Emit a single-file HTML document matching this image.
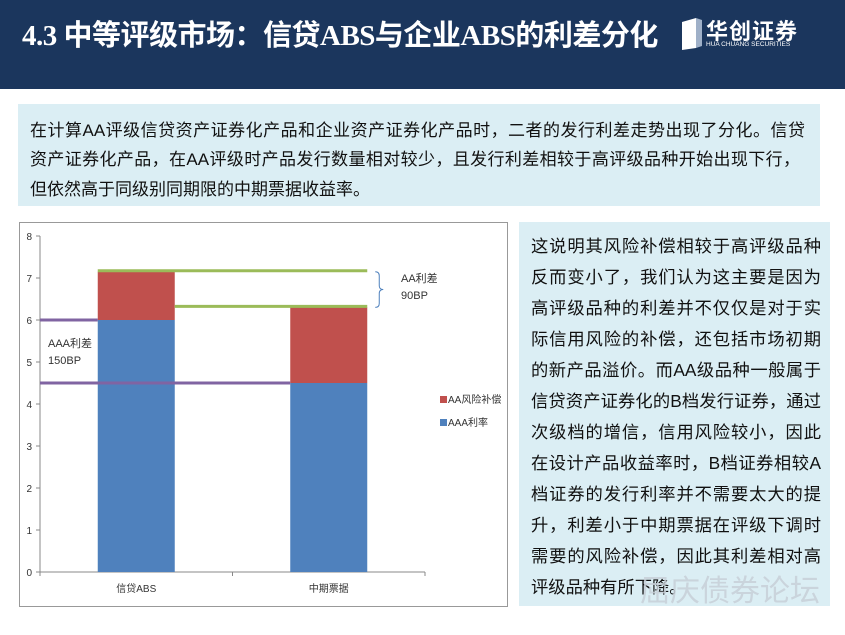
<!DOCTYPE html>
<html><head><meta charset="utf-8">
<style>
body{margin:0;width:845px;height:635px;background:#fff;position:relative;overflow:hidden;font-family:"Liberation Sans","Noto Sans CJK SC",sans-serif;}
.hdr{position:absolute;left:0;top:0;width:845px;height:89px;background:#1b365d;}
.title{position:absolute;left:22px;top:12px;color:#fff;font-weight:bold;font-size:29px;font-family:"Liberation Serif","Noto Sans CJK SC",sans-serif;letter-spacing:-0.5px;white-space:nowrap;}
.logo{position:absolute;left:680px;top:16px;color:#fff;}
.box1{position:absolute;left:18px;top:104px;width:802px;height:102px;background:#dbeef4;}
.l1{position:absolute;left:30px;width:775px;font-size:17px;color:#111;white-space:nowrap;text-align:justify;text-align-last:justify;}
.box2{position:absolute;left:519px;top:222px;width:311px;height:384px;background:#dbeef4;}
.l2{position:absolute;left:12px;width:290px;font-size:17.3px;color:#111;white-space:nowrap;text-align:justify;text-align-last:justify;}
</style></head><body>
<div class="hdr"></div>
<div class="title">4.3 中等评级市场：信贷ABS与企业ABS的利差分化</div>
<div class="logo">
<svg width="120" height="36" style="position:absolute;left:0;top:0"><g fill="#fff"><polygon points="2,6 16,2 16,32 2,34"/><polygon points="16,2 22,4 22,30 16,32" fill="#9fb0c8"/></g></svg>
<div style="position:absolute;left:26px;top:-2px;font-size:22px;font-weight:bold;white-space:nowrap;letter-spacing:1px">华创证券</div>
<div style="position:absolute;left:26px;top:25px;font-size:6.5px;white-space:nowrap">HUA CHUANG SECURITIES</div>
</div>
<div class="box1"></div>
<div class="l1" style="top:116px">在计算AA评级信贷资产证券化产品和企业资产证券化产品时，二者的发行利差走势出现了分化。信贷</div>
<div class="l1" style="top:145px;width:770px">资产证券化产品，在AA评级时产品发行数量相对较少，且发行利差相较于高评级品种开始出现下行，</div>
<div class="l1" style="top:175px;text-align-last:left">但依然高于同级别同期限的中期票据收益率。</div>

<svg id="chart" width="845" height="635" style="position:absolute;left:0;top:0">
<rect x="19.5" y="222.5" width="488" height="384" fill="#fff" stroke="#999"/>
</svg>

<div class="box2">
<div class="l2" style="top:10px">这说明其风险补偿相较于高评级品种</div>
<div class="l2" style="top:41px">反而变小了，我们认为这主要是因为</div>
<div class="l2" style="top:72px">高评级品种的利差并不仅仅是对于实</div>
<div class="l2" style="top:103px">际信用风险的补偿，还包括市场初期</div>
<div class="l2" style="top:134px">的新产品溢价。而AA级品种一般属于</div>
<div class="l2" style="top:165px">信贷资产证券化的B档发行证券，通过</div>
<div class="l2" style="top:196px">次级档的增信，信用风险较小，因此</div>
<div class="l2" style="top:227px">在设计产品收益率时，B档证券相较A</div>
<div class="l2" style="top:258px">档证券的发行利率并不需要太大的提</div>
<div class="l2" style="top:289px">升，利差小于中期票据在评级下调时</div>
<div class="l2" style="top:320px">需要的风险补偿，因此其利差相对高</div>
<div class="l2" style="top:351px;text-align-last:left">评级品种有所下降。</div>
</div>
<div style="position:absolute;left:640px;top:566px;font-size:30px;color:#c8d0d8;opacity:0.85;white-space:nowrap">屈庆债券论坛</div>

<script>
const categories=["信贷ABS","中期票据"];
const aaaRate=[6.0,4.5];
const aaRisk=[1.15,1.8];
const yTicks=[0,1,2,3,4,5,6,7,8];
const svg=document.getElementById('chart');
const NS='http://www.w3.org/2000/svg';
const x0=40,x1=425,yBase=572,yTop=236,yMax=8;
const y=v=>yBase-(yBase-yTop)*v/yMax;
const band=(x1-x0)/categories.length;
const bw=77;
const bx=i=>x0+band*i+(band-bw)/2;
function mk(t,a){const e=document.createElementNS(NS,t);for(const k in a)e.setAttribute(k,a[k]);svg.appendChild(e);return e;}
let e=mk('line',{x1:x0,y1:yTop,x2:x0,y2:yBase,stroke:'#888'});

e=mk('line',{x1:x0,y1:yBase,x2:x1,y2:yBase,stroke:'#888'});

yTicks.forEach(t=>{
 mk('line',{x1:x0-4,y1:y(t),x2:x0,y2:y(t),stroke:'#888'});
 const l=mk('text',{x:x0-8,y:y(t)+4,'text-anchor':'end','font-size':10,fill:'#333'});l.textContent=t;
 
});
for(let i=0;i<=categories.length;i++)mk('line',{x1:x0+band*i,y1:yBase,x2:x0+band*i,y2:yBase+4,stroke:'#888'});
categories.forEach((c,i)=>{
 let r=mk('rect',{x:bx(i),y:y(aaaRate[i]),width:bw,height:yBase-y(aaaRate[i]),fill:'#4f81bd'});
 
 r=mk('rect',{x:bx(i),y:y(aaaRate[i]+aaRisk[i]),width:bw,height:y(aaaRate[i])-y(aaaRate[i]+aaRisk[i]),fill:'#c0504d'});
 
 const l=mk('text',{x:x0+band*(i+0.5),y:yBase+20,'text-anchor':'middle','font-size':10,fill:'#333'});l.textContent=c;
 
});
const t0=aaaRate[0]+aaRisk[0],t1=aaaRate[1]+aaRisk[1];
e=mk('line',{x1:bx(0),y1:y(t0)-1,x2:bx(1)+bw,y2:y(t0)-1,stroke:'#9bbb59','stroke-width':3});

e=mk('line',{x1:bx(0)+bw,y1:y(t1)-1,x2:bx(1)+bw,y2:y(t1)-1,stroke:'#9bbb59','stroke-width':3});

e=mk('line',{x1:x0,y1:y(aaaRate[0]),x2:bx(0),y2:y(aaaRate[0]),stroke:'#8064a2','stroke-width':3});

e=mk('line',{x1:x0,y1:y(aaaRate[1]),x2:bx(1),y2:y(aaaRate[1]),stroke:'#8064a2','stroke-width':3});

const bxr=bx(1)+bw+8;
e=mk('path',{d:`M${bxr},${y(t0)} q4,0 4,4 v${(y(t1)-y(t0))/2-8} q0,4 4,4 q-4,0 -4,4 v${(y(t1)-y(t0))/2-8} q0,4 -4,4`,fill:'none',stroke:'#4f81bd'});

function txt(s,x,yy,n){const l=mk('text',{x:x,y:yy,'font-size':11,fill:'#333'});l.textContent=s;}
txt('AA利差',401,282,'aa-spread-label');txt('90BP',401,299,'aa-spread-value');
txt('AAA利差',48,347,'aaa-spread-label');txt('150BP',48,364,'aaa-spread-value');
const leg=[['AA风险补偿','#c0504d',402],['AAA利率','#4f81bd',425]];
leg.forEach(([s,c,yy])=>{mk('rect',{x:440,y:yy-6,width:7,height:7,fill:c});
 const l=mk('text',{x:448,y:yy+1,'font-size':10,fill:'#333'});l.textContent=s;
 });
</script>
</body></html>
